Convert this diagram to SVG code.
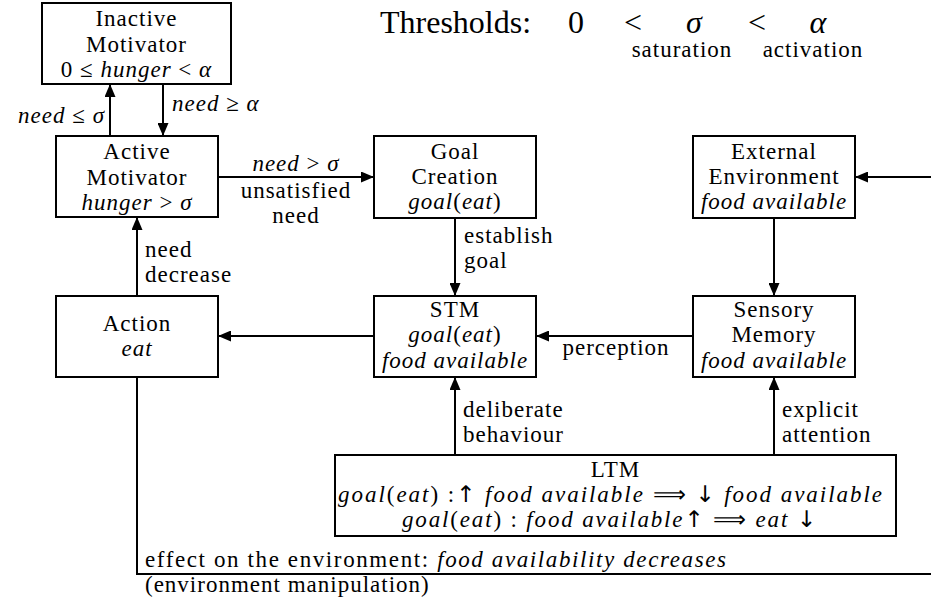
<svg xmlns="http://www.w3.org/2000/svg" width="931" height="603" viewBox="0 0 931 603">
<style>
.t{font-family:"Liberation Serif","Times New Roman",serif;font-size:23px;letter-spacing:1px;fill:#000}
.m{text-anchor:middle}
.i{font-style:italic}
.big{font-size:32px;letter-spacing:0}
.sym{font-family:"DejaVu Sans",sans-serif;font-style:normal}
.box{fill:#fff;stroke:#000;stroke-width:2}
.ln{fill:none;stroke:#000;stroke-width:2}
.ar{marker-end:url(#ah)}
</style>
<defs>
<marker id="ah" markerWidth="13" markerHeight="11" refX="13" refY="5.5" orient="auto" markerUnits="userSpaceOnUse"><path d="M0,0 L13,5.5 L0,11 z" fill="#000"/></marker>
</defs>
<rect width="931" height="603" fill="#fff"/>

<g id="thresholds">
<text class="t big" x="380" y="33">Thresholds:</text>
<text class="t big m" x="576" y="33">0</text>
<text class="t big m" x="633" y="33">&lt;</text>
<text class="t big m i" x="694" y="33">σ</text>
<text class="t big m" x="757" y="33">&lt;</text>
<text class="t big m i" x="818" y="33">α</text>
<text class="t m" x="682" y="57">saturation</text>
<text class="t m" x="813" y="57">activation</text>
</g>

<g id="connectors">
<path class="ln ar" d="M110,136 V84"/>
<path class="ln ar" d="M163,84 V136"/>
<path class="ln ar" d="M218,177 H374"/>
<path class="ln ar" d="M137,296 V217"/>
<path class="ln ar" d="M455,218 V296"/>
<path class="ln ar" d="M374,336 H218"/>
<path class="ln ar" d="M693,336 H536"/>
<path class="ln ar" d="M774,218 V296"/>
<path class="ln ar" d="M931,177 H855"/>
<path class="ln ar" d="M455,455 V377"/>
<path class="ln ar" d="M774,455 V377"/>
<path class="ln" d="M137,377 V574 H931"/>
<text class="t" x="105" y="123" text-anchor="end"><tspan class="i">need</tspan> ≤ <tspan class="i">σ</tspan></text>
<text class="t" x="172" y="111"><tspan class="i">need</tspan> ≥ <tspan class="i">α</tspan></text>
<text class="t m" x="296" y="171"><tspan class="i">need</tspan> &gt; <tspan class="i">σ</tspan></text>
<text class="t m" x="296" y="198">unsatisfied</text>
<text class="t m" x="296" y="223">need</text>
<text class="t" x="145" y="257">need</text>
<text class="t" x="145" y="282">decrease</text>
<text class="t" x="464" y="243">establish</text>
<text class="t" x="464" y="268">goal</text>
<text class="t m" x="616" y="355">perception</text>
<text class="t" x="463" y="417">deliberate</text>
<text class="t" x="463" y="442">behaviour</text>
<text class="t" x="782" y="417">explicit</text>
<text class="t" x="782" y="442">attention</text>
<text class="t" x="145" y="567" textLength="582">effect on the environment: <tspan class="i">food availability decreases</tspan></text>
<text class="t" x="145" y="592">(environment manipulation)</text>
</g>

<g id="inactive-motivator">
<rect class="box" x="42" y="3" width="189" height="81"/>
<text class="t m" x="136.5" y="26">Inactive</text>
<text class="t m" x="136.5" y="52">Motivator</text>
<text class="t m" x="136.5" y="77">0 ≤ <tspan class="i">hunger</tspan> &lt; <tspan class="i">α</tspan></text>
</g>

<g id="active-motivator">
<rect class="box" x="56" y="136" width="162" height="81"/>
<text class="t m" x="137" y="159">Active</text>
<text class="t m" x="137" y="185">Motivator</text>
<text class="t m" x="137" y="210"><tspan class="i">hunger</tspan> &gt; <tspan class="i">σ</tspan></text>
</g>

<g id="action">
<rect class="box" x="56" y="296" width="162" height="81"/>
<text class="t m" x="137" y="331">Action</text>
<text class="t m i" x="137" y="356">eat</text>
</g>

<g id="goal-creation">
<rect class="box" x="374" y="136" width="162" height="82"/>
<text class="t m" x="455" y="159">Goal</text>
<text class="t m" x="455" y="184">Creation</text>
<text class="t m" x="455" y="209"><tspan class="i">goal</tspan>(<tspan class="i">eat</tspan>)</text>
</g>

<g id="stm">
<rect class="box" x="374" y="296" width="162" height="81"/>
<text class="t m" x="455" y="317">STM</text>
<text class="t m" x="455" y="342"><tspan class="i">goal</tspan>(<tspan class="i">eat</tspan>)</text>
<text class="t m i" x="455" y="368">food available</text>
</g>

<g id="external-environment">
<rect class="box" x="693" y="136" width="162" height="82"/>
<text class="t m" x="774" y="159">External</text>
<text class="t m" x="774" y="184">Environment</text>
<text class="t m i" x="774" y="209">food available</text>
</g>

<g id="sensory-memory">
<rect class="box" x="693" y="296" width="162" height="81"/>
<text class="t m" x="774" y="317">Sensory</text>
<text class="t m" x="774" y="342">Memory</text>
<text class="t m i" x="774" y="368">food available</text>
</g>

<g id="ltm">
<rect class="box" x="335" y="455" width="561" height="81"/>
<text class="t m" x="615.5" y="477">LTM</text>
<text class="t" x="338" y="502" textLength="545"><tspan class="i">goal</tspan>(<tspan class="i">eat</tspan>) :<tspan class="sym">↑︎</tspan> <tspan class="i">food available</tspan> ⟹   <tspan class="sym">↓︎</tspan> <tspan class="i">food available</tspan></text>
<text class="t" x="402" y="527" textLength="415"><tspan class="i">goal</tspan>(<tspan class="i">eat</tspan>) : <tspan class="i">food available</tspan><tspan class="sym">↑︎</tspan> ⟹  <tspan class="i">eat</tspan> <tspan class="sym">↓︎</tspan></text>
</g>
</svg>
